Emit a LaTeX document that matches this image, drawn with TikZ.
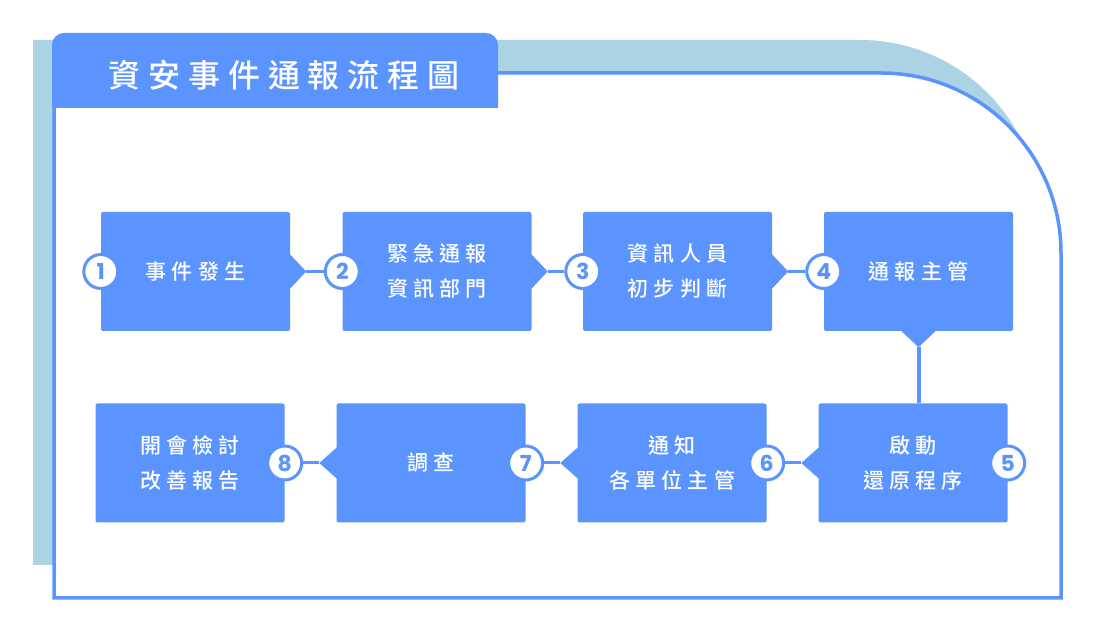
\documentclass[tikz,border=0pt]{standalone}
\usepackage{fontspec}
\usepackage{tikz}
\usetikzlibrary{calc}
\newfontfamily\cjk[LetterSpace=25]{Noto Sans CJK TC Medium}
\newfontfamily\numfont{Poppins}
\definecolor{flowblue}{HTML}{5B94FF}
\definecolor{shadeblue}{HTML}{ABD3E3}

\tikzset{
  stepbox/.style={fill=flowblue, rounded corners=2pt, minimum width=189pt,
    minimum height=119pt, inner sep=0pt, text=white, align=center,
    font=\cjk\fontsize{21}{35}\selectfont},
  numdot/.style={circle, draw=flowblue, line width=3pt, fill=white,
    minimum size=34pt, inner sep=0pt, text=flowblue,
    font=\numfont\bfseries\fontsize{22}{22}\selectfont},
  link/.style={draw=flowblue, line width=3pt},
}

\begin{document}
\begin{tikzpicture}[x=1pt,y=1pt]
  \useasboundingbox (0,0) rectangle (1096,629);
  % Bakgrund
  \fill[shadeblue] (33,64) -- (33,589) -- (860,589)
    arc[start angle=90, end angle=0, radius=180] -- (1040,64) -- cycle;
  \draw[flowblue, line width=3.5pt, fill=white] (54,31) -- (54,556) -- (881,556)
    arc[start angle=90, end angle=0, radius=180] -- (1061,31) -- cycle;
  % Rubrik
  \fill[flowblue] (52,521) -- (52,584) arc[start angle=180, end angle=90, radius=12]
    -- (486,596) arc[start angle=90, end angle=0, radius=12] -- (498,521) -- cycle;
  \node[text=white, font=\cjk\fontsize{32}{32}\selectfont] (title) at (284,554) {資安事件通報流程圖};
  % Steg
  \node[stepbox] (b1) at (195.5,357.5) {事件發生};
  \node[stepbox] (b2) at (437,357.5) {緊急通報\\資訊部門};
  \node[stepbox] (b3) at (677.5,357.5) {資訊人員\\初步判斷};
  \node[stepbox] (b4) at (918.5,357.5) {通報主管};
  \node[stepbox] (b5) at (913,166) {啟動\\還原程序};
  \node[stepbox] (b6) at (672,166) {通知\\各單位主管};
  \node[stepbox] (b7) at (431,166) {調查};
  \node[stepbox] (b8) at (190,166) {開會檢討\\改善報告};
  % Pilar
  \foreach \a/\b in {b1/c2,b2/c3,b3/c4}
    \fill[flowblue] ($(\a.east)+(-1,18)$) -- ($(\a.east)+(16,0)$) coordinate (tip\b)
      -- ($(\a.east)+(-1,-18)$) -- cycle;
  \foreach \a/\b in {b7/c8,b6/c7,b5/c6}
    \fill[flowblue] ($(\a.west)+(1,16)$) -- ($(\a.west)+(-17,0)$) coordinate (tip\b)
      -- ($(\a.west)+(1,-16)$) -- cycle;
  \fill[flowblue] ($(b4.south)+(-18,1)$) -- ($(b4.south)+(0,-16)$) coordinate (tipdown)
    -- ($(b4.south)+(18,1)$) -- cycle;
  \draw[link, line width=4pt] (tipdown) -- (tipdown |- b5.north);
  % Nummer
  \foreach \n/\s in {1/b1,2/b2,3/b3,4/b4}
    \node[numdot] (c\n) at (\s.west) {\n};
  \foreach \n/\s in {5/b5,6/b6,7/b7,8/b8}
    \node[numdot] (c\n) at (\s.east) {\n};
  \foreach \b in {c2,c3,c4,c6,c7,c8}
    \draw[link] (tip\b) -- (\b);
\end{tikzpicture}
\end{document}
